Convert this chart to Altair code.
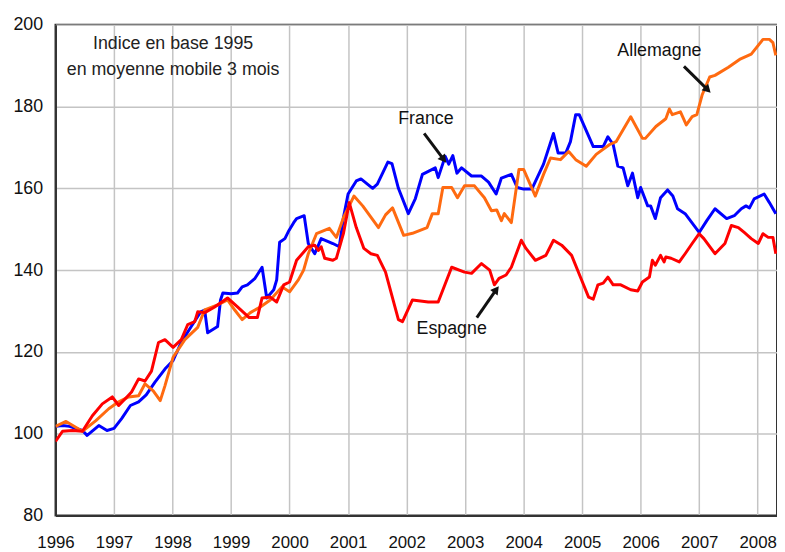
import altair as alt
import pandas as pd

# ---- data ----
fr_year = [1996.0, 1996.12, 1996.24, 1996.46, 1996.54, 1996.74, 1996.88, 1997.0, 1997.13, 1997.28,
           1997.42, 1997.55, 1997.7, 1997.87, 1998.01, 1998.15, 1998.32, 1998.48, 1998.55, 1998.6,
           1998.77, 1998.82, 1998.86, 1999.0, 1999.11, 1999.19, 1999.28, 1999.41, 1999.53, 1999.61,
           1999.73, 1999.78, 1999.83, 1999.92, 1999.99, 2000.07, 2000.12, 2000.25, 2000.32, 2000.43,
           2000.54, 2000.74, 2000.85, 2000.92, 2001.0, 2001.14, 2001.22, 2001.42, 2001.5, 2001.68,
           2001.75, 2001.86, 2002.03, 2002.15, 2002.27, 2002.49, 2002.54, 2002.66, 2002.72, 2002.79,
           2002.86, 2002.94, 2003.11, 2003.28, 2003.4, 2003.53, 2003.62, 2003.79, 2003.89, 2004.0,
           2004.14, 2004.34, 2004.51, 2004.59, 2004.72, 2004.8, 2004.89, 2004.95, 2005.19, 2005.36,
           2005.44, 2005.53, 2005.61, 2005.7, 2005.78, 2005.86, 2005.95, 2006.0, 2006.12, 2006.17,
           2006.25, 2006.34, 2006.46, 2006.55, 2006.63, 2006.76, 2007.0, 2007.13, 2007.27, 2007.47,
           2007.6, 2007.72, 2007.8, 2007.86, 2007.94, 2008.11, 2008.2, 2008.31]
fr_val = [101.8, 102.0, 101.8, 100.8, 99.6, 102.0, 100.8, 101.3, 103.7, 106.9,
          107.8, 109.5, 112.6, 115.8, 117.9, 122.4, 126.2, 129.8, 130.2, 124.7,
          126.2, 132.7, 134.4, 134.2, 134.4, 135.9, 136.4, 138.0, 140.7, 133.2,
          135.2, 137.6, 146.8, 147.7, 149.7, 151.6, 152.6, 153.3, 146.5, 144.0,
          147.7, 146.5, 145.7, 152.8, 158.6, 161.8, 162.3, 160.0, 161.0, 166.4,
          166.0, 160.0, 153.8, 157.5, 163.4, 165.0, 162.6, 167.8, 165.9, 168.0,
          163.7, 165.0, 163.0, 163.0, 161.5, 158.6, 162.5, 163.4, 160.2, 159.8,
          159.8, 165.9, 173.4, 168.6, 168.6, 171.4, 178.0, 178.0, 170.2, 170.2,
          172.6, 170.7, 165.4, 165.0, 160.6, 163.7, 157.7, 160.2, 155.7, 155.7,
          152.6, 157.7, 159.6, 158.1, 155.0, 153.8, 149.2, 152.1, 155.0, 152.6,
          153.3, 155.0, 155.7, 155.2, 157.4, 158.6, 156.5, 153.8]

de_year = [1996.0, 1996.18, 1996.46, 1996.69, 1996.91, 1997.08, 1997.25, 1997.42, 1997.53, 1997.67,
           1997.79, 1997.87, 1998.01, 1998.21, 1998.43, 1998.55, 1998.77, 1998.94, 1999.06, 1999.19,
           1999.33, 1999.5, 1999.67, 1999.87, 2000.0, 2000.15, 2000.24, 2000.32, 2000.46, 2000.68,
           2000.8, 2000.92, 2001.1, 2001.25, 2001.52, 2001.64, 2001.76, 2001.95, 2002.1, 2002.35,
           2002.44, 2002.54, 2002.62, 2002.77, 2002.87, 2002.99, 2003.16, 2003.33, 2003.45, 2003.54,
           2003.62, 2003.67, 2003.79, 2003.92, 2004.0, 2004.2, 2004.34, 2004.46, 2004.63, 2004.77,
           2004.89, 2005.07, 2005.24, 2005.47, 2005.58, 2005.83, 2006.03, 2006.08, 2006.26, 2006.43,
           2006.49, 2006.54, 2006.68, 2006.78, 2006.88, 2006.96, 2007.05, 2007.18, 2007.27, 2007.5,
           2007.69, 2007.89, 2008.09, 2008.2, 2008.26, 2008.31]
de_val = [101.8, 103.0, 100.6, 103.2, 106.1, 107.8, 109.0, 109.3, 112.2, 110.5,
          108.1, 111.7, 118.7, 123.0, 126.0, 130.3, 131.5, 132.7, 130.3, 127.9,
          129.6, 131.0, 132.7, 135.9, 134.7, 137.6, 140.0, 144.0, 148.9, 150.2,
          148.0, 152.8, 158.1, 155.7, 150.4, 153.5, 155.2, 148.5, 149.0, 150.4,
          153.8, 153.8, 160.2, 160.2, 157.7, 160.6, 160.6, 157.7, 154.5, 154.7,
          152.1, 153.8, 151.6, 164.6, 164.6, 158.1, 163.4, 167.4, 167.0, 169.0,
          167.0, 165.4, 168.3, 170.7, 171.4, 177.5, 172.2, 172.2, 175.1, 177.0,
          179.4, 178.0, 178.7, 175.5, 177.5, 178.0, 182.8, 187.2, 187.6, 189.6,
          191.5, 192.8, 196.4, 196.4, 195.6, 192.5]

es_year = [1996.0, 1996.12, 1996.29, 1996.46, 1996.63, 1996.8, 1996.97, 1997.08, 1997.22, 1997.3,
           1997.42, 1997.53, 1997.64, 1997.76, 1997.87, 1998.01, 1998.15, 1998.26, 1998.38, 1998.43,
           1998.55, 1998.72, 1998.94, 1999.11, 1999.31, 1999.45, 1999.53, 1999.67, 1999.78, 1999.9,
           2000.0, 2000.12, 2000.32, 2000.43, 2000.49, 2000.54, 2000.6, 2000.74, 2000.8, 2000.92,
           2001.02, 2001.14, 2001.27, 2001.39, 2001.5, 2001.64, 2001.86, 2001.93, 2002.1, 2002.37,
           2002.54, 2002.77, 2002.99, 2003.11, 2003.28, 2003.42, 2003.5, 2003.58, 2003.7, 2003.79,
           2003.96, 2004.04, 2004.2, 2004.38, 2004.51, 2004.65, 2004.82, 2004.97, 2005.11, 2005.19,
           2005.27, 2005.36, 2005.44, 2005.53, 2005.66, 2005.83, 2005.95, 2006.03, 2006.15, 2006.2,
           2006.25, 2006.34, 2006.4, 2006.43, 2006.52, 2006.66, 2006.76, 2006.88, 2007.0, 2007.08,
           2007.27, 2007.44, 2007.55, 2007.67, 2007.77, 2007.89, 2008.01, 2008.09, 2008.18, 2008.26,
           2008.31]
es_val = [98.1, 100.6, 100.8, 100.6, 104.4, 107.3, 109.0, 106.9, 109.0, 110.2,
          113.4, 112.9, 115.3, 122.3, 123.0, 121.1, 123.0, 126.7, 127.4, 129.8,
          129.6, 131.0, 133.2, 131.0, 128.4, 128.4, 133.2, 133.4, 132.2, 136.4,
          137.1, 142.4, 145.7, 146.1, 144.8, 145.7, 142.9, 142.4, 142.9, 148.9,
          156.5, 150.4, 145.3, 144.0, 143.6, 139.5, 127.9, 127.4, 132.7, 132.2,
          132.2, 140.7, 139.5, 139.2, 141.6, 140.0, 136.4, 138.0, 138.8, 140.7,
          147.3, 145.3, 142.4, 143.6, 147.3, 146.1, 143.6, 138.3, 133.4, 132.9,
          136.4, 136.8, 138.3, 136.4, 136.4, 135.2, 134.9, 137.1, 138.3, 142.4,
          141.2, 143.6, 142.0, 143.2, 142.9, 142.0, 144.0, 146.5, 148.9, 147.7,
          144.0, 146.5, 150.9, 150.4, 149.2, 147.7, 146.5, 148.9, 148.0, 148.0,
          144.0]

series_names = ["France", "Allemagne", "Espagne"]
series_colors = ["#0000ff", "#ff6a10", "#ff0000"]

year_ticks = list(range(1996, 2009))
value_ticks = [80, 100, 120, 140, 160, 180, 200]

# annotations
label_text = ["France", "Allemagne", "Espagne"]
label_x = [2002.33, 2006.32, 2002.77]
label_y = [177.0, 193.5, 125.5]
arrow_x = [2002.30, 2006.74, 2003.20]
arrow_y = [173.4, 189.8, 128.4]
arrow_x2 = [2002.62, 2007.13, 2003.52]
arrow_y2 = [167.3, 184.3, 135.0]
arrow_angle = [143, 135, 37]

note_lines = ["Indice en base 1995", "en moyenne mobile 3 mois"]
note_x = [1998.01, 1998.01]
note_y = [195.3, 189.0]

FONT = "Liberation Sans"

frames = []
for name, xs, ys in [("France", fr_year, fr_val), ("Allemagne", de_year, de_val), ("Espagne", es_year, es_val)]:
    frames.append(pd.DataFrame({"annee": xs, "indice": ys, "pays": name}))
df = pd.concat(frames, ignore_index=True)

xscale = alt.Scale(domain=[1996, 2008.33], nice=False, zero=False)
yscale = alt.Scale(domain=[80, 200], nice=False, zero=False)

xax = alt.Axis(values=year_ticks, format="d", title=None, ticks=False, labelPadding=19,
               grid=True, labelFlush=False, labelOverlap=False)
yax = alt.Axis(values=value_ticks, title=None, ticks=False, labelPadding=13, grid=True)

base = alt.Chart(df)
layers = []
for name, col in zip(series_names, series_colors):
    layers.append(
        base.transform_filter(alt.datum.pays == name)
        .mark_line(color=col, strokeWidth=3, clip=True, strokeJoin="round")
        .encode(x=alt.X("annee:Q", scale=xscale, axis=xax),
                y=alt.Y("indice:Q", scale=yscale, axis=yax))
    )

ann = pd.DataFrame({"t": label_text, "x": label_x, "y": label_y,
                    "ax": arrow_x, "ay": arrow_y, "ax2": arrow_x2, "ay2": arrow_y2,
                    "ang": arrow_angle})
labels = alt.Chart(ann).mark_text(font=FONT, fontSize=18, color="#111").encode(
    x=alt.X("x:Q", scale=xscale), y=alt.Y("y:Q", scale=yscale), text="t:N")
arrows = alt.Chart(ann).mark_rule(color="#111", strokeWidth=3).encode(
    x=alt.X("ax:Q", scale=xscale), y=alt.Y("ay:Q", scale=yscale),
    x2="ax2:Q", y2="ay2:Q")
heads = alt.Chart(ann).mark_point(shape="triangle", filled=True, color="#111", size=90, opacity=1).encode(
    x=alt.X("ax2:Q", scale=xscale), y=alt.Y("ay2:Q", scale=yscale),
    angle=alt.Angle("ang:Q", scale=None))

notes = pd.DataFrame({"t": note_lines, "x": note_x, "y": note_y})
note_marks = alt.Chart(notes).mark_text(font=FONT, fontSize=18, color="#222").encode(
    x=alt.X("x:Q", scale=xscale), y=alt.Y("y:Q", scale=yscale), text="t:N")

chart = alt.layer(*layers, arrows, heads, labels, note_marks).properties(
    width=729, height=496,
    autosize=alt.AutoSizeParams(type="none"),
    padding={"left": 48, "top": 14, "right": 0, "bottom": 34},
    background="white",
).configure_view(stroke="#333", strokeWidth=2).configure_axis(
    labelFont=FONT, labelColor="#111",
    domainColor="#333", domainWidth=2,
    gridColor="#c4c4c4", gridWidth=1.5,
).configure_axisX(labelFontSize=17).configure_axisY(labelFontSize=18)

chart.save("out.html", embed_options={"renderer": "svg", "actions": False})
